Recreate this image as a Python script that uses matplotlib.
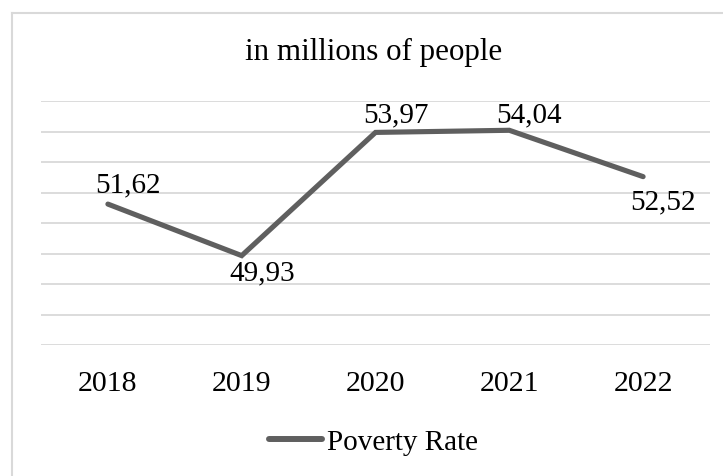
import matplotlib
matplotlib.use("Agg")
import matplotlib.pyplot as plt
from matplotlib.lines import Line2D

# Chart data
years = ["2018", "2019", "2020", "2021", "2022"]
poverty = [51.62, 49.93, 53.97, 54.04, 52.52]
value_labels = ["51,62", "49,93", "53,97", "54,04", "52,52"]
series_name = "Poverty Rate"
title = "in millions of people"

# label placement: above (+) or below (-) the point, in pixels
label_dy = [13, -24, 11, 9, -32]

plt.rcParams["font.family"] = ["Liberation Serif", "DejaVu Serif"]
line_color = "#5f5f5f"
grid_color = "#d9d9d9"
fs = 21

fig = plt.figure(figsize=(7.23, 4.77), dpi=100)
ax = fig.add_axes([41 / 723, 1 - 346 / 477, 669 / 723, 244 / 477])

x = list(range(len(years)))
ax.plot(x, poverty, color=line_color, linewidth=3.7, solid_capstyle="round",
        solid_joinstyle="miter", label=series_name, zorder=3)

for xi, yi, txt, dy in zip(x, poverty, value_labels, label_dy):
    ax.annotate(txt, (xi, yi), xytext=(20, dy), textcoords="offset pixels",
                ha="center", va="baseline", fontsize=fs, color="#000000")

ax.set_xlim(-0.5, len(years) - 0.5)
ax.set_ylim(47, 55)
ax.set_yticks(range(47, 56))
ax.set_xticks(x)
ax.set_xticklabels(years, fontsize=21.5)
ax.tick_params(axis="x", length=0, pad=18)
ax.tick_params(axis="y", length=0, labelleft=False)
ax.grid(axis="y", color=grid_color, linewidth=1.3)
for side in ["top", "right", "left", "bottom"]:
    ax.spines[side].set_visible(False)

fig.text(374 / 723, 1 - 52 / 477, title, ha="center", va="center", fontsize=22.3)

leg = ax.legend(loc="center", bbox_to_anchor=(0.517, 1 - 443 / 477),
                bbox_transform=fig.transFigure, frameon=False, fontsize=fs,
                handlelength=1.83, handletextpad=0.17)
for h in leg.get_lines():
    h.set_linewidth(4.3)

# outer chart border
fig.add_artist(Line2D([11.5 / 723, 11.5 / 723], [0, 1 - 13.5 / 477],
                      transform=fig.transFigure, color=grid_color, linewidth=1.5))
fig.add_artist(Line2D([11.5 / 723, 1], [1 - 13.5 / 477, 1 - 13.5 / 477],
                      transform=fig.transFigure, color=grid_color, linewidth=1.5))

fig.savefig("out.png", dpi=100)
